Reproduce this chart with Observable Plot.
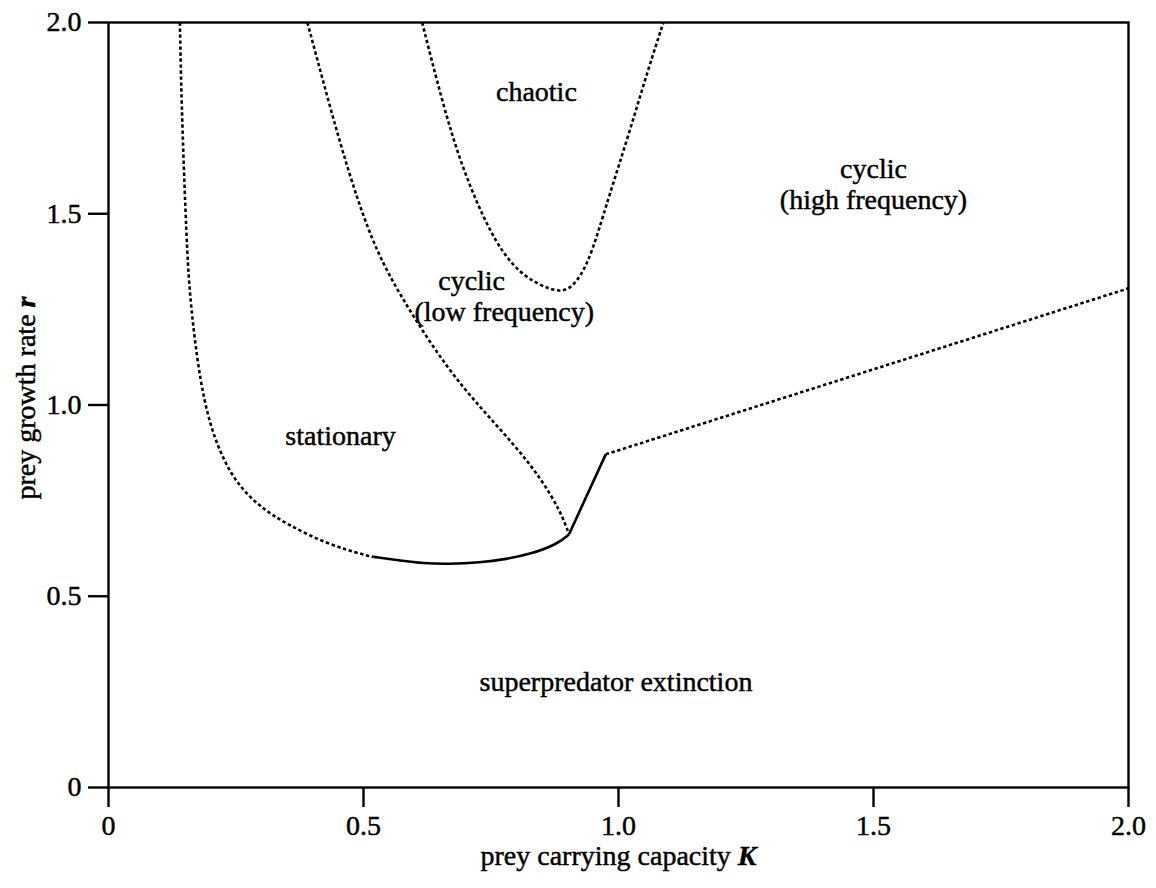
<!DOCTYPE html>
<html>
<head>
<meta charset="utf-8">
<script src="https://cdn.jsdelivr.net/npm/d3@7"></script>
<script src="https://cdn.jsdelivr.net/npm/@observablehq/plot@0.6"></script>
<style>
  html, body { margin: 0; padding: 0; background: #fff; }
  #chart svg text { stroke: #000; stroke-width: 0.45px; }
</style>
</head>
<body>
<div id="chart"></div>
<script>
// ---- data ----
const xTicks = [0, 0.5, 1, 1.5, 2];
const xTickLabels = ["0", "0.5", "1.0", "1.5", "2.0"];
const yTicks = [0, 0.5, 1, 1.5, 2];
const yTickLabels = ["0", "0.5", "1.0", "1.5", "2.0"];

// left boundary (dashed) of the stationary region
const leftK = [0.140, 0.143, 0.151, 0.157, 0.167, 0.180, 0.197, 0.220, 0.252, 0.298, 0.350, 0.429, 0.507, 0.520];
const leftR = [2.000, 1.794, 1.500, 1.324, 1.193, 1.063, 0.958, 0.871, 0.793, 0.732, 0.688, 0.636, 0.606, 0.603];

// lower boundary (solid) of the stationary region
const bottomK = [0.520, 0.573, 0.618, 0.665, 0.729, 0.780, 0.827, 0.880, 0.903];
const bottomR = [0.603, 0.593, 0.586, 0.584, 0.588, 0.597, 0.610, 0.636, 0.662];

// solid rise from the junction to the corner
const riseK = [0.903, 0.975];
const riseR = [0.662, 0.871];

// dashed straight boundary to the right edge
const rightK = [0.975, 2.0];
const rightR = [0.871, 1.305];

// boundary between stationary and low-frequency cycles (dashed)
const midK = [0.390, 0.430, 0.468, 0.508, 0.545, 0.599, 0.664, 0.729, 0.795, 0.847, 0.886, 0.903];
const midR = [2.000, 1.800, 1.620, 1.460, 1.350, 1.228, 1.097, 0.993, 0.897, 0.810, 0.723, 0.662];

// chaotic region boundary (dashed)
const chaosK = [0.615, 0.654, 0.693, 0.749, 0.795, 0.841, 0.886, 0.912, 0.938, 0.960, 0.980, 1.020, 1.059, 1.088];
const chaosR = [2.000, 1.794, 1.620, 1.446, 1.358, 1.315, 1.293, 1.310, 1.365, 1.450, 1.540, 1.707, 1.881, 2.000];

// region labels
const labelText = ["chaotic", "cyclic", "(high frequency)", "cyclic", "(low frequency)", "stationary", "superpredator extinction"];
const labelK = [0.839, 1.500, 1.500, 0.712, 0.776, 0.455, 0.995];
const labelR = [1.818, 1.617, 1.535, 1.325, 1.243, 0.919, 0.275];

const xTitleMain = "prey carrying capacity ";
const xTitleVar = "K";
const yTitleMain = "prey growth rate ";
const yTitleVar = "r";

// ---- tables built from the arrays ----
const pts = (ks, rs) => ks.map((k, i) => ({K: k, r: rs[i]}));
const labels = labelText.map((t, i) => ({text: t, K: labelK[i], r: labelR[i]}));

const FONT = "Liberation Serif, Times New Roman, serif";
const FS = 28;
const dash = "3.4,2.6";
const DW = 2.6;
const dashed = {stroke: "#000", strokeWidth: DW, strokeDasharray: dash, strokeLinecap: "butt"};
const solid = {stroke: "#000", strokeWidth: 2.6, strokeLinecap: "butt"};

const svg = Plot.plot({
  width: 1156,
  height: 888,
  marginLeft: 108,
  marginRight: 28,
  marginTop: 22,
  marginBottom: 101,
  style: {fontFamily: FONT, fontSize: FS + "px", background: "#fff", color: "#000"},
  x: {domain: [0, 2], label: null},
  y: {domain: [0, 2], label: null},
  marks: [
    Plot.line(pts(leftK, leftR), {x: "K", y: "r", curve: "basis", ...dashed}),
    Plot.line(pts(bottomK, bottomR), {x: "K", y: "r", curve: "basis", ...solid}),
    Plot.line(pts(riseK, riseR), {x: "K", y: "r", ...solid}),
    Plot.line(pts(rightK, rightR), {x: "K", y: "r", ...dashed}),
    Plot.line(pts(midK, midR), {x: "K", y: "r", curve: "basis", ...dashed}),
    Plot.line(pts(chaosK, chaosR), {x: "K", y: "r", curve: "basis", ...dashed}),
    Plot.frame({stroke: "#000", strokeWidth: 2.4}),
    Plot.axisX(xTicks, {
      tickSize: 20, tickPadding: 8, strokeWidth: 2.4, fontSize: FS, label: null,
      tickFormat: d => xTickLabels[xTicks.indexOf(d)]
    }),
    Plot.axisY(yTicks, {
      tickSize: 20, tickPadding: 7, strokeWidth: 2.4, fontSize: FS, label: null,
      tickFormat: d => yTickLabels[yTicks.indexOf(d)]
    }),
    Plot.text(labels, {x: "K", y: "r", text: "text", fontSize: FS, fill: "#000", lineAnchor: "middle"}),
    Plot.text([xTitleMain + xTitleVar], {frameAnchor: "bottom", dy: 69, fontSize: FS, fill: "#000", textAnchor: "middle", lineAnchor: "middle"}),
    Plot.text([yTitleMain + yTitleVar], {frameAnchor: "left", dx: -82, dy: -7, rotate: -90, fontSize: FS, fill: "#000", textAnchor: "middle", lineAnchor: "middle"})
  ]
});

// italicise the variable names in the axis titles
d3.select(svg).selectAll("text").each(function() {
  const t = this.textContent;
  let main = null, v = null;
  if (t === xTitleMain + xTitleVar) { main = xTitleMain; v = xTitleVar; }
  if (t === yTitleMain + yTitleVar) { main = yTitleMain; v = yTitleVar; }
  if (main !== null) {
    const el = d3.select(this);
    el.text(null);
    el.append("tspan").text(main);
    el.append("tspan").attr("font-style", "italic").attr("font-weight", "bold").text(v);
  }
});

document.getElementById("chart").appendChild(svg);
</script>
</body>
</html>
